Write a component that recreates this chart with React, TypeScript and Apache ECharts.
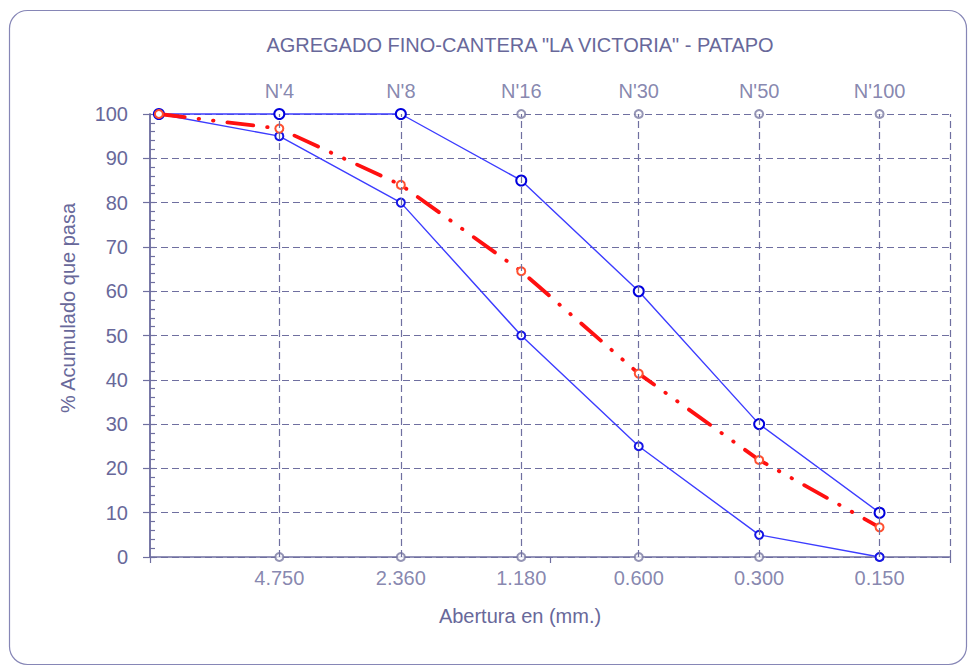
import React, { useEffect, useRef } from "react";
import * as echarts from "echarts";

// Sieve openings (mm), first point is 3/8" (9.5 mm)
const sizes = [9.5, 4.75, 2.36, 1.18, 0.6, 0.3, 0.15];
const upperLimit = [100, 100, 100, 85, 60, 30, 10];
const lowerLimit = [100, 95, 80, 50, 25, 5, 0];
const sample = [100, 96.7, 84.0, 64.5, 41.4, 21.9, 6.7];

const sieveSizes = [4.75, 2.36, 1.18, 0.6, 0.3, 0.15];
const sieveNames = ["N'4", "N'8", "N'16", "N'30", "N'50", "N'100"];
const yTicks = [0, 10, 20, 30, 40, 50, 60, 70, 80, 90, 100];

const TITLE = 'AGREGADO FINO-CANTERA "LA VICTORIA" - PATAPO';
const X_NAME = "Abertura en (mm.)";
const Y_NAME = "% Acumulado que pasa";

const TXT = "#68689a";
const GRID = "#6f6fa0";
const FONT = "Liberation Sans, Arial, sans-serif";
const FS = 20;

export default function App() {
  const ref = useRef<HTMLDivElement>(null);
  useEffect(() => {
    if (!ref.current) return;
    const chart = echarts.init(ref.current, undefined, { renderer: "svg" });
    const pairs = (ys: number[]) => sizes.map((s, i) => [s, ys[i]]);
    chart.setOption({
      animation: false,
      backgroundColor: "#ffffff",
      textStyle: { fontFamily: FONT },
      title: [
        {
          text: TITLE,
          left: 520,
          top: 35,
          textAlign: "center",
          padding: 0,
          textStyle: { color: TXT, fontSize: FS, fontWeight: "normal", fontFamily: FONT },
        },
        {
          text: X_NAME,
          left: 520,
          top: 606,
          textAlign: "center",
          padding: 0,
          textStyle: { color: TXT, fontSize: FS, fontWeight: "normal", fontFamily: FONT },
        },
      ],
      graphic: [
        {
          type: "rect",
          shape: { x: 9.5, y: 10.5, width: 957, height: 654, r: 18 },
          style: { fill: "none", stroke: "#8686b6", lineWidth: 1.2 },
          silent: true,
          z: -10,
        },
        {
          type: "text",
          x: 68,
          y: 308,
          rotation: Math.PI / 2,
          style: {
            text: Y_NAME,
            fill: TXT,
            font: `${FS}px ${FONT}`,
            textAlign: "center",
            textVerticalAlign: "middle",
          },
        },
      ],
      grid: { left: 150, right: 22, top: 114, bottom: 112, containLabel: false },
      xAxis: {
        type: "log",
        logBase: 10,
        min: 0.1,
        max: 10,
        inverse: true,
        axisLine: { show: true, onZero: false, lineStyle: { color: GRID, width: 1.5 } },
        axisTick: { show: true, length: 6, lineStyle: { color: GRID, width: 1.2 } },
        axisLabel: { show: false },
        splitLine: { show: false },
        minorTick: { show: false },
      },
      yAxis: [
        {
          type: "value",
          min: 0,
          max: 100,
          interval: 10,
          position: "left",
          axisLine: { show: true, onZero: false, lineStyle: { color: GRID, width: 1.5 } },
          axisTick: { show: true, inside: false, length: 7, lineStyle: { color: GRID, width: 1.2 } },
          axisLabel: {
            show: true,
            margin: 22,
            color: TXT,
            fontSize: FS,
            fontFamily: FONT,
            formatter: (v: number) => (yTicks.includes(v) ? String(v) : ""),
          },
          splitLine: { show: true, lineStyle: { color: GRID, width: 1.2, type: [7, 4] } },
        },
        {
          type: "value",
          min: 0,
          max: 100,
          interval: 2,
          position: "left",
          offset: 0,
          axisLine: { show: true, onZero: false, lineStyle: { color: GRID, width: 1.5 } },
          axisTick: { show: true, inside: true, length: 5, lineStyle: { color: GRID, width: 1.2 } },
          axisLabel: { show: false },
          splitLine: { show: false },
        },
      ],
      series: [
        {
          name: "sieves-bottom",
          type: "scatter",
          yAxisIndex: 0,
          clip: false,
          symbol: "emptyCircle",
          symbolSize: 8,
          itemStyle: { color: "#7a7aa2", borderWidth: 1.4 },
          data: sieveSizes.map((s) => [s, 0]),
          label: {
            show: true,
            position: "bottom",
            distance: 6,
            color: TXT,
            fontSize: FS,
            fontFamily: FONT,
            formatter: (p: any) => Number(p.value[0]).toFixed(3),
          },
          markLine: {
            silent: true,
            symbol: "none",
            label: { show: false },
            lineStyle: { color: GRID, width: 1.2, type: [7, 4] },
            data: [...sieveSizes, 0.1].map((s) => ({ xAxis: s })),
          },
          z: 1,
        },
        {
          name: "sieves-top",
          type: "scatter",
          yAxisIndex: 0,
          clip: false,
          symbol: "emptyCircle",
          symbolSize: 8,
          itemStyle: { color: "#7a7aa2", borderWidth: 1.4 },
          data: sieveSizes.map((s, i) => [s, 100, sieveNames[i]]),
          label: {
            show: true,
            position: "top",
            distance: 8,
            color: TXT,
            fontSize: FS,
            fontFamily: FONT,
            formatter: (p: any) => p.value[2],
          },
          z: 1,
        },
        {
          name: "ticks-helper",
          type: "line",
          yAxisIndex: 1,
          data: [],
          silent: true,
        },
        {
          name: "Límite inferior",
          type: "line",
          yAxisIndex: 0,
          clip: false,
          data: pairs(lowerLimit),
          symbol: "emptyCircle",
          symbolSize: 8,
          lineStyle: { color: "#3c3cff", width: 1.4 },
          itemStyle: { color: "#1515e6", borderWidth: 1.6 },
          z: 3,
        },
        {
          name: "Límite superior",
          type: "line",
          yAxisIndex: 0,
          clip: false,
          data: pairs(upperLimit),
          symbol: "emptyCircle",
          symbolSize: 10,
          lineStyle: { color: "#3c3cff", width: 1.4 },
          itemStyle: { color: "#0000dd", borderWidth: 2.8 },
          z: 3,
        },
        {
          name: "Muestra",
          type: "line",
          yAxisIndex: 0,
          clip: false,
          data: pairs(sample),
          symbol: "emptyCircle",
          symbolSize: 8,
          lineStyle: { color: "#ff1010", width: 3.8, type: [26, 14, 0.5, 14, 0.5, 14], cap: "round" },
          itemStyle: { color: "#ff5030", borderWidth: 1.4 },
          z: 4,
        },
      ],
    });
    return () => chart.dispose();
  }, []);
  return (
    <div
      ref={ref}
      style={{ position: "fixed", left: 0, top: 0, width: 972, height: 669, background: "#fff" }}
    />
  );
}
